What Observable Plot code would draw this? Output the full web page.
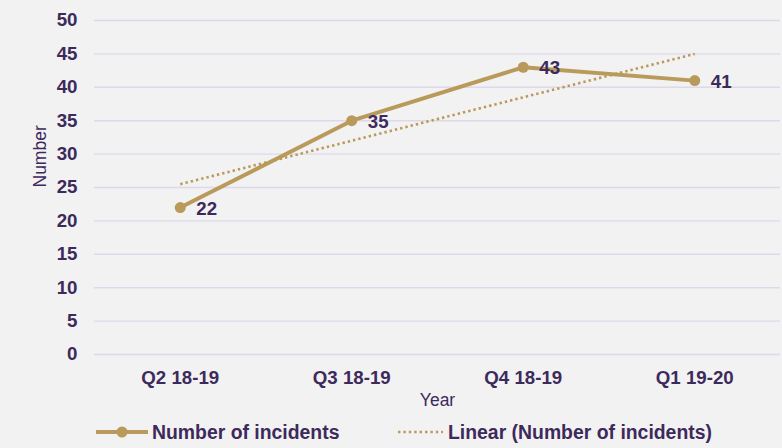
<!DOCTYPE html>
<html>
<head>
<meta charset="utf-8">
<script src="https://cdn.jsdelivr.net/npm/d3@7"></script>
<script src="https://cdn.jsdelivr.net/npm/@observablehq/plot@0.6"></script>
<style>
  html, body { margin: 0; padding: 0; background: #F2F2F2; }
  #wrap { position: relative; width: 782px; height: 448px; background: #F2F2F2; font-family: "Liberation Sans", Arial, sans-serif; }
  #chart svg { display: block; }
  .leg { position: absolute; height: 22px; display: flex; align-items: center; color: #3D2A5C; font-weight: bold; font-size: 19.4px; white-space: nowrap; }
  .leg svg { display: block; margin-right: 4px; }
</style>
</head>
<body>
<div id="wrap">
  <div id="chart"></div>
  <div class="leg" id="leg1" style="left:96px; top:421px;"></div>
  <div class="leg" id="leg2" style="left:398px; top:421px;"></div>
</div>
<script>
const categories = ["Q2 18-19", "Q3 18-19", "Q4 18-19", "Q1 19-20"];
const incidents = [22, 35, 43, 41];
const yTicks = [0, 5, 10, 15, 20, 25, 30, 35, 40, 45, 50];
const seriesName = "Number of incidents";
const trendName = "Linear (Number of incidents)";

const gold = "#B99A5B";
const ink = "#3D2A5C";
const grid = "#DFD8EA";
const fs = 18.7;

const data = categories.map((c, i) => ({idx: i + 1, cat: c, value: incidents[i]}));

const chart = Plot.plot({
  width: 782,
  height: 415,
  marginLeft: 94,
  marginRight: 2,
  marginTop: 20,
  marginBottom: 61,
  style: {background: "#F2F2F2", fontFamily: "'Liberation Sans', Arial, sans-serif", color: ink},
  x: {type: "linear", domain: [0.5, categories.length + 0.5]},
  y: {domain: [0, 50]},
  marks: [
    Plot.gridY(yTicks, {stroke: grid, strokeOpacity: 1, strokeWidth: 1.4}),
    Plot.axisY(yTicks, {tickSize: 0, tickPadding: 17, fontSize: fs, fontWeight: "bold", fill: ink, label: null}),
    Plot.axisX(data.map(d => d.idx), {tickSize: 0, tickPadding: 16, tickFormat: i => categories[i - 1], fontSize: fs, fontWeight: "bold", fill: ink, label: null}),
    Plot.text(["Number"], {frameAnchor: "left", dx: -54, rotate: -90, fontSize: 17.5, fill: ink}),
    Plot.text(["Year"], {frameAnchor: "bottom", dy: 51, fontSize: 17.5, fill: ink}),
    Plot.linearRegressionY(data, {x: "idx", y: "value", ci: 0, stroke: gold, strokeWidth: 2.6, strokeDasharray: "2.4 3", strokeLinecap: "butt"}),
    Plot.line(data, {x: "idx", y: "value", stroke: gold, strokeWidth: 4}),
    Plot.dot(data, {x: "idx", y: "value", r: 5.5, fill: gold, stroke: "none"}),
    Plot.text(data, {x: "idx", y: "value", text: d => String(d.value), textAnchor: "start", dx: 16, dy: 1, fontSize: fs, fontWeight: "bold", fill: ink})
  ]
});
document.getElementById("chart").appendChild(chart);

// Legend
const ns = "http://www.w3.org/2000/svg";
function sym(dotted) {
  const s = document.createElementNS(ns, "svg");
  const w = dotted ? 46 : 52;
  s.setAttribute("width", w); s.setAttribute("height", 14);
  const l = document.createElementNS(ns, "line");
  l.setAttribute("x1", 0); l.setAttribute("x2", w - 1);
  l.setAttribute("y1", 7); l.setAttribute("y2", 7);
  l.setAttribute("stroke", gold);
  if (dotted) { l.setAttribute("stroke-width", 2.6); l.setAttribute("stroke-dasharray", "2.4 3"); }
  else { l.setAttribute("stroke-width", 4); l.setAttribute("stroke-linecap", "round"); }
  s.appendChild(l);
  if (!dotted) {
    const c = document.createElementNS(ns, "circle");
    c.setAttribute("cx", 26); c.setAttribute("cy", 7); c.setAttribute("r", 5.5); c.setAttribute("fill", gold);
    s.appendChild(c);
  }
  return s;
}
const l1 = document.getElementById("leg1");
l1.appendChild(sym(false)); l1.appendChild(document.createTextNode(seriesName));
const l2 = document.getElementById("leg2");
l2.appendChild(sym(true)); l2.appendChild(document.createTextNode(trendName));
</script>
</body>
</html>
